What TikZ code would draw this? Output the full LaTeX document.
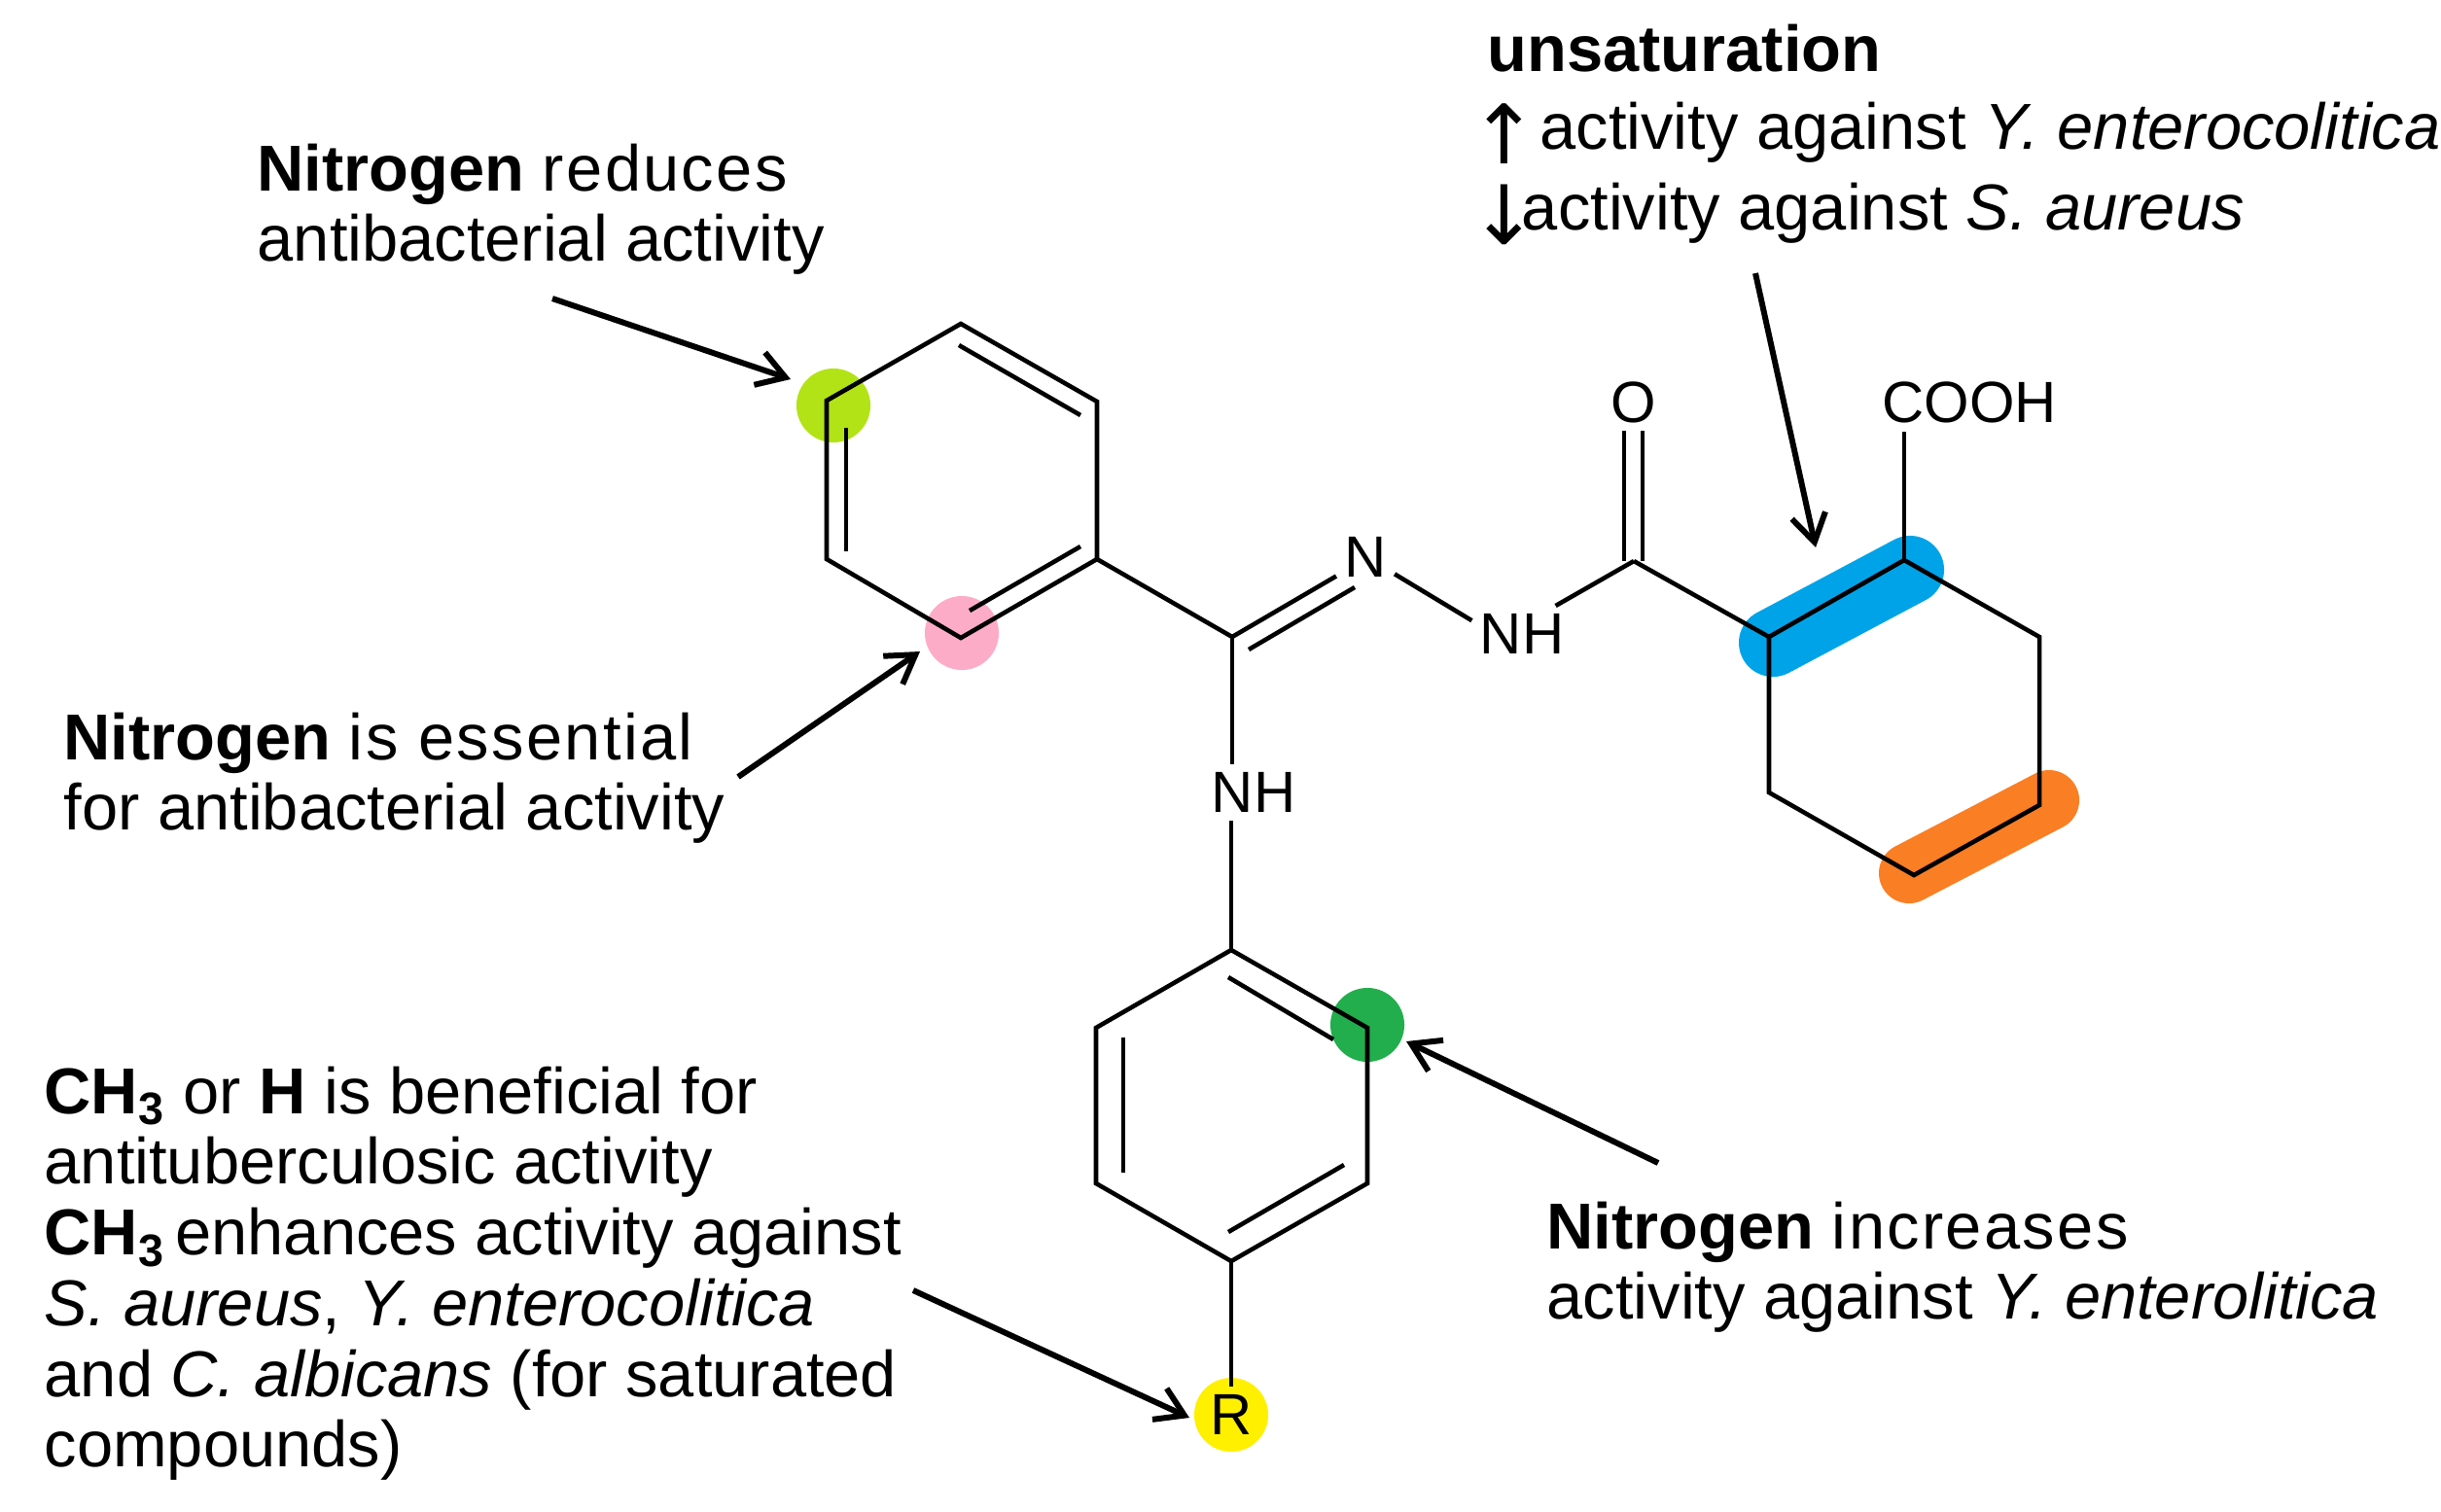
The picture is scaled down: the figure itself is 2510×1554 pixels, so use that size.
\documentclass[tikz,border=0pt]{standalone}
\usepackage{fontspec}
\setmainfont{Liberation Sans}
\usetikzlibrary{arrows.meta}
\definecolor{limespot}{RGB}{178,227,22}
\definecolor{pinkspot}{RGB}{253,172,200}
\definecolor{greenspot}{RGB}{34,174,76}
\definecolor{yellowspot}{RGB}{255,240,0}
\definecolor{bluespot}{RGB}{0,163,232}
\definecolor{orangespot}{RGB}{250,126,36}
\newcommand{\spaced}[1]{{\addfontfeature{LetterSpace=3.5}#1}}
\newcommand{\trend}[1]{\makebox[10pt][c]{\fontspec{DejaVu Sans}\fontsize{24}{20}\selectfont\raisebox{-4.3pt}{#1}}}
\tikzstyle{bond} = [line width=1.3pt, line join=miter, line cap=butt]
\tikzstyle{pointer} = [-{Straight Barb[length=8pt,width=10pt,line width=1.7pt]}, line width=1.7pt]
\tikzstyle{spot} = [circle, minimum size=0.76cm, inner sep=0pt]
\tikzstyle{atom} = [inner sep=2.2pt, font=\fontsize{17}{20}\selectfont]
\tikzstyle{note} = [anchor=north west, inner sep=0pt, align=left, font=\fontsize{19}{20.68}\selectfont]
\begin{document}
\begin{tikzpicture}[x=0.01cm, y=-0.01cm]
    \useasboundingbox (0,0) rectangle (2510,1554);
    % Marks behind the formula
    \node[spot, fill=limespot] (lime) at (857,417) {};
    \node[spot, fill=pinkspot] (pink) at (989,651) {};
    \node[spot, fill=greenspot] (green) at (1406,1054) {};
    \node[spot, fill=yellowspot] (yellow) at (1266,1455) {};
    \coordinate (blueA) at (1823,661);
    \coordinate (blueB) at (1964,586);
    \coordinate (orangeA) at (1963,898);
    \coordinate (orangeB) at (2107,823);
    \draw[bluespot, line width=0.7cm, line cap=round] (blueA) -- (blueB);
    \draw[orangespot, line width=0.62cm, line cap=round] (orangeA) -- (orangeB);

    % Atoms
    \coordinate (a1) at (988,333);
    \coordinate (a2) at (1128,413);
    \coordinate (a3) at (1128,575);
    \coordinate (a4) at (988,656);
    \coordinate (a5) at (850,575);
    \coordinate (a6) at (850,412);
    \coordinate (b1) at (1266,977);
    \coordinate (b2) at (1406,1057);
    \coordinate (b3) at (1406,1217);
    \coordinate (b4) at (1266,1297);
    \coordinate (b5) at (1127,1217);
    \coordinate (b6) at (1127,1057);
    \coordinate (c1) at (1958,576);
    \coordinate (c2) at (2097,655);
    \coordinate (c3) at (2097,828);
    \coordinate (c4) at (1968,900);
    \coordinate (c5) at (1819,815);
    \coordinate (c6) at (1819,655);
    \coordinate (imine) at (1267,655);
    \coordinate (carbonyl) at (1680,577);

    % Labels
    \node[atom] (nitrogen) at (1404,573) {N};
    \node[atom] (hydrazide) at (1565,652) {NH};
    \node[atom] (amine) at (1289,815) {NH};
    \node[atom] (oxygen) at (1680,414) {O};
    \node[atom] (acid) at (2025,414) {COOH};
    \node[atom] (group) at (1266,1455) {R};

    % Rings
    \draw[bond] (a1) -- (a2) -- (a3) -- (a4) -- (a5) -- (a6) -- cycle;
    \draw[bond] (b1) -- (b2) -- (b3) -- (b4) -- (b5) -- (b6) -- cycle;
    \draw[bond] (c1) -- (c2) -- (c3) -- (c4) -- (c5) -- (c6) -- cycle;
    \draw[bond] ([shift={(-2,22)}]a1) -- ([shift={(-17,14)}]a2);
    \draw[bond] ([shift={(-17,-13)}]a3) -- ([shift={(9,-28)}]a4);
    \draw[bond] ([shift={(20,-8)}]a5) -- ([shift={(20,28)}]a6);
    \draw[bond] ([shift={(-3,28)}]b1) -- ([shift={(-35,12)}]b2);
    \draw[bond] ([shift={(-24,-19)}]b3) -- ([shift={(-3,-30)}]b4);
    \draw[bond] ([shift={(28,-11)}]b5) -- ([shift={(28,10)}]b6);

    % Chain
    \draw[bond] (a3) -- (imine);
    \draw[bond] (imine) -- (nitrogen.213);
    \draw[bond] ([shift={(17,13)}]imine) -- ([shift={(-11,31)}]nitrogen.center);
    \draw[bond] (nitrogen.-30) -- (hydrazide.165);
    \draw[bond] (hydrazide.40) -- (carbonyl);
    \draw[bond] (carbonyl) -- (c6);
    \draw[bond] ([shift={(-10,0)}]carbonyl) -- ([shift={(-10,29)}]oxygen.center);
    \draw[bond] ([shift={(9,0)}]carbonyl) -- ([shift={(9,29)}]oxygen.center);
    \draw[bond] (c1) -- (c1 |- acid.south);
    \draw[bond] (imine) -- (imine |- amine.north);
    \draw[bond] (b1 |- amine.south) -- (b1);
    \draw[bond] (b4) -- (group);

    % Notes
    \node[note] (noteTop) at (264,147) {\textbf{Nitrogen} \spaced{reduces}\\antibacterial activity};
    \node[note] (noteEssential) at (65,732) {\textbf{Nitrogen} \spaced{is essential}\\for antibacterial activity};
    \node[note] (noteGroup) at (45,1096) {\textbf{CH\textsubscript{3}} or \textbf{H} is beneficial for\\antituberculosic activity\\\textbf{CH\textsubscript{3}}\hspace{3pt}enhances activity against\\\textit{S. aureus}, \textit{Y. enterocolitica}\\and \textit{C. albicans} (for saturated\\compounds)};
    \node[note] (noteIncrease) at (1590,1235) {\textbf{Nitrogen} \spaced{increases}\\activity against \textit{Y. enterolitica}};
    \node[note] (noteUnsat) at (1529,24) {\textbf{unsaturation}\\[2.2pt]\trend{↑} activity against \textit{Y. enterocolitica}\\[2.8pt]\trend{↓}activity against \textit{S. aureus}};

    % Pointers
    \coordinate (tailLime) at (568,307);
    \coordinate (tipLime) at (813,390);
    \coordinate (tailPink) at (759,799);
    \coordinate (tipPink) at (946,670);
    \coordinate (tailGreen) at (1705,1196);
    \coordinate (tipGreen) at (1446,1071);
    \coordinate (tailGroup) at (939,1327);
    \coordinate (tipGroup) at (1223,1458);
    \coordinate (tailBlue) at (1805,281);
    \coordinate (tipBlue) at (1867,563);
    \draw[pointer] (tailLime) -- (tipLime);
    \draw[pointer] (tailPink) -- (tipPink);
    \draw[pointer] (tailGreen) -- (tipGreen);
    \draw[pointer] (tailGroup) -- (tipGroup);
    \draw[pointer] (tailBlue) -- (tipBlue);
\end{tikzpicture}
\end{document}
